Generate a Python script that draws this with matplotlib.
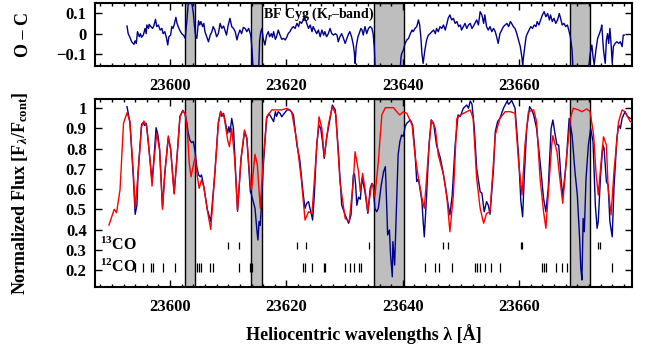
import matplotlib
matplotlib.use("Agg")
import matplotlib.pyplot as plt
from matplotlib.ticker import MultipleLocator, FixedLocator

plt.rcParams['font.family'] = ['Liberation Serif', 'DejaVu Serif']
plt.rcParams['font.weight'] = 'bold'
plt.rcParams['mathtext.fontset'] = 'custom'
plt.rcParams['mathtext.rm'] = 'Liberation Serif:bold'
plt.rcParams['mathtext.it'] = 'Liberation Serif:bold:italic'
plt.rcParams['mathtext.bf'] = 'Liberation Serif:bold'

# ---------------- data ----------------
model_wl = [23589.5, 23590.4, 23590.8, 23591.4, 23592.0, 23592.6, 23593.1, 23593.7, 23594.0, 23594.5,
            23595.1, 23595.5, 23596.0, 23596.6, 23596.9, 23597.2, 23597.7, 23598.2, 23598.7, 23599.1,
            23599.7, 23600.1, 23600.7, 23601.2, 23601.7, 23602.2, 23602.6, 23603.0, 23603.3, 23603.6,
            23604.3, 23604.7, 23605.0, 23605.4, 23605.8, 23606.4, 23607.0, 23607.7, 23608.3, 23608.7,
            23609.3, 23609.9, 23610.2, 23610.6, 23611.1, 23611.6, 23612.2, 23612.8, 23613.2, 23613.8,
            23614.0, 23614.6, 23615.0, 23615.5, 23616.0, 23616.6, 23617.5, 23619.2, 23620.1, 23620.9,
            23621.8, 23622.6, 23623.2, 23623.8, 23624.4, 23624.9, 23625.6, 23626.1, 23626.5, 23627.2,
            23627.9, 23628.5, 23629.2, 23630.1, 23630.8, 23631.5, 23631.8, 23632.4, 23632.7, 23633.1,
            23633.5, 23634.0, 23634.6, 23634.8, 23635.2, 23635.8, 23636.4, 23637.0, 23638.4, 23639.2,
            23639.5, 23640.1, 23640.7, 23641.6, 23642.1, 23642.7, 23643.3, 23643.7, 23644.3, 23644.9,
            23645.6, 23646.1, 23647.0, 23647.6, 23648.1, 23648.7, 23649.3, 23649.9, 23651.0, 23651.6,
            23652.1, 23652.7, 23653.3, 23653.9, 23654.4, 23655.0, 23655.6, 23655.9, 23656.7, 23657.6,
            23658.5, 23659.3, 23659.9, 23660.5, 23661.0, 23661.6, 23662.5, 23663.0, 23663.6, 23664.2,
            23664.6, 23665.0, 23665.6, 23665.8, 23666.5, 23667.0, 23667.5, 23668.1, 23668.8, 23669.3,
            23670.2, 23670.8, 23671.6, 23672.2, 23672.8, 23673.2, 23673.6, 23674.2, 23674.5, 23675.0,
            23675.3, 23675.8, 23676.3, 23677.1, 23677.7, 23678.2, 23679.1, 23679.4]
model_flux = [0.422, 0.50, 0.483, 0.596, 0.926, 0.978, 0.934, 0.678, 0.505, 0.678,
              0.909, 0.937, 0.909, 0.728, 0.615, 0.728, 0.876, 0.794, 0.50, 0.678,
              0.863, 0.794, 0.575, 0.76, 0.958, 0.988, 0.972, 0.876, 0.728, 0.661,
              0.76, 0.661, 0.604, 0.645, 0.612, 0.497, 0.40, 0.678, 0.926, 0.983,
              0.958, 0.843, 0.81, 0.90, 0.75, 0.497, 0.75, 0.893, 0.851, 0.62,
              0.596, 0.772, 0.72, 0.505, 0.736, 0.958, 0.992, 0.992, 1.0, 0.983,
              0.835, 0.637, 0.447, 0.488, 0.48, 0.686, 0.958, 0.90, 0.76, 0.917,
              1.008, 0.967, 0.637, 0.455, 0.44, 0.637, 0.785, 0.686, 0.587, 0.678,
              0.604, 0.488, 0.62, 0.628, 0.562, 0.736, 0.967, 1.003, 1.003, 0.975,
              0.967, 0.983, 0.975, 0.917, 0.769, 0.653, 0.554, 0.505, 0.736, 0.942,
              0.90, 0.769, 0.67, 0.554, 0.389, 0.571, 0.95, 0.967, 0.983, 0.992,
              0.95, 0.653, 0.505, 0.431, 0.48, 0.488, 0.736, 0.868, 0.95, 0.983,
              0.983, 0.975, 0.736, 0.571, 0.818, 0.983, 0.992, 0.934, 0.653, 0.488,
              0.406, 0.571, 0.818, 0.864, 0.785, 0.653, 0.53, 0.736, 0.95, 1.0,
              0.992, 0.983, 0.997, 0.983, 0.868, 0.686, 0.571, 0.769, 0.859, 0.818,
              0.604, 0.472, 0.686, 0.934, 0.992, 0.983, 0.934, 0.93]

obs_wl = [23592.6, 23593.1, 23593.7, 23594.0, 23594.3, 23594.5, 23595.1, 23595.4, 23595.6, 23595.9,
          23596.2, 23596.9, 23597.2, 23597.6, 23597.9, 23598.2, 23598.7, 23599.1, 23599.7, 23600.1,
          23600.7, 23601.2, 23601.7, 23602.2, 23602.6, 23602.9, 23603.1, 23603.4, 23603.7, 23604.0,
          23604.3, 23604.6, 23604.9, 23605.2, 23605.4, 23605.8, 23606.4, 23607.0, 23607.7, 23608.3,
          23608.7, 23608.9, 23609.2, 23609.5, 23609.9, 23610.1, 23610.3, 23610.6, 23610.9, 23611.6,
          23612.2, 23612.8, 23613.2, 23613.8, 23614.0, 23614.3, 23614.6, 23614.9, 23615.1, 23615.3,
          23615.5, 23615.8, 23616.0, 23616.6, 23617.0, 23617.5, 23617.8, 23618.1, 23618.3, 23618.6,
          23618.9, 23619.2, 23619.5, 23620.1, 23620.6, 23621.2, 23621.8, 23622.3, 23622.9, 23623.2,
          23623.5, 23623.8, 23624.0, 23624.2, 23624.5, 23624.8, 23625.2, 23625.6, 23625.9, 23626.2,
          23626.5, 23626.9, 23627.5, 23627.9, 23628.4, 23628.9, 23629.5, 23630.1, 23630.7, 23631.1,
          23631.5, 23631.7, 23631.9, 23632.1, 23632.4, 23632.7, 23633.0, 23633.2, 23633.5, 23634.0,
          23634.4, 23634.7, 23634.9, 23635.2, 23635.5, 23635.8, 23636.3, 23636.7, 23637.0, 23637.1,
          23637.4, 23637.7, 23637.9, 23638.2, 23638.3, 23638.6, 23638.8, 23639.0, 23639.2, 23639.5,
          23639.8, 23640.1, 23640.4, 23640.7, 23641.3, 23641.7, 23642.1, 23642.4, 23642.7, 23643.3,
          23643.5, 23643.7, 23644.1, 23644.5, 23644.9, 23645.3, 23645.8, 23646.4, 23646.8, 23647.3,
          23647.8, 23648.1, 23648.5, 23649.0, 23649.5, 23649.9, 23650.4, 23651.0, 23651.3, 23651.6,
          23651.9, 23652.3, 23652.7, 23653.3, 23653.6, 23654.0, 23654.4, 23654.7, 23655.0, 23655.6,
          23655.9, 23656.3, 23656.7, 23657.3, 23657.9, 23658.2, 23658.5, 23658.7, 23659.3, 23659.9,
          23660.3, 23660.6, 23660.9, 23661.3, 23661.8, 23662.2, 23662.5, 23663.0, 23663.6, 23664.2,
          23664.6, 23665.0, 23665.5, 23665.8, 23666.2, 23666.5, 23666.8, 23667.2, 23667.5, 23668.1,
          23668.6, 23669.1, 23669.6, 23670.0, 23670.4, 23670.6, 23670.8, 23671.0, 23671.2, 23671.5,
          23671.9, 23672.3, 23672.7, 23673.1, 23673.4, 23673.6, 23674.0, 23674.4, 23674.6, 23675.0,
          23675.3, 23675.6, 23676.0, 23676.3, 23676.8, 23677.1, 23677.4, 23677.7, 23678.2, 23678.6,
          23679.1]
obs_flux = [1.008, 0.93, 0.65, 0.475, 0.52, 0.68, 0.92, 0.93, 0.915, 0.925,
            0.85, 0.64, 0.74, 0.904, 0.87, 0.80, 0.51, 0.68, 0.855, 0.80,
            0.58, 0.76, 0.96, 0.99, 0.97, 0.926, 0.88, 0.843, 0.83, 0.835,
            0.785, 0.711, 0.67, 0.661, 0.67, 0.612, 0.50, 0.44, 0.68, 0.93,
            0.985, 0.96, 0.975, 0.93, 0.876, 0.909, 0.88, 0.95, 0.90, 0.49,
            0.75, 0.884, 0.851, 0.587, 0.571, 0.538, 0.505, 0.406, 0.348, 0.44,
            0.42, 0.571, 0.703, 0.95, 0.975, 0.95, 0.934, 0.983, 0.96, 0.983,
            0.975, 0.958, 0.97, 0.992, 0.992, 0.967, 0.818, 0.744, 0.571, 0.505,
            0.53, 0.538, 0.51, 0.488, 0.447, 0.571, 0.818, 0.917, 0.90, 0.835,
            0.752, 0.851, 0.95, 1.016, 0.992, 0.802, 0.521, 0.472, 0.431, 0.472,
            0.67, 0.675, 0.62, 0.52, 0.56, 0.55, 0.653, 0.63, 0.587, 0.48,
            0.604, 0.628, 0.62, 0.505, 0.488, 0.505, 0.62, 0.686, 0.711, 0.637,
            0.373, 0.398, 0.274, 0.166, 0.34, 0.224, 0.406, 0.571, 0.769, 0.835,
            0.868, 0.86, 0.909, 0.926, 0.942, 0.917, 0.785, 0.637, 0.65, 0.538,
            0.44, 0.364, 0.571, 0.818, 0.942, 0.926, 0.818, 0.76, 0.703, 0.62,
            0.521, 0.472, 0.571, 0.818, 0.967, 0.96, 1.0, 1.016, 1.0, 1.036,
            1.02, 0.90, 0.703, 0.587, 0.58, 0.488, 0.538, 0.52, 0.476, 0.703,
            0.884, 0.934, 0.95, 1.0, 1.033, 1.02, 1.03, 1.04, 1.0, 0.769,
            0.538, 0.463, 0.67, 0.90, 1.008, 0.99, 0.967, 0.90, 0.736, 0.554,
            0.488, 0.604, 0.90, 0.942, 0.868, 0.82, 0.818, 0.653, 0.562, 0.736,
            0.95, 0.868, 0.686, 0.571, 0.356, 0.208, 0.15, 0.455, 0.389, 0.653,
            0.818, 0.90, 0.835, 0.521, 0.406, 0.44, 0.67, 0.818, 0.802, 0.637,
            0.62, 0.44, 0.364, 0.604, 0.851, 0.917, 0.90, 0.95, 0.983, 0.96,
            0.95]

oc_wl = [23592.6, 23592.8, 23593.1, 23593.4, 23593.8, 23594.0, 23594.2, 23594.4, 23594.7, 23594.9,
         23595.1, 23595.4, 23595.7, 23595.9, 23596.0, 23596.3, 23596.4, 23596.7, 23597.0, 23597.2,
         23597.5, 23597.7, 23598.0, 23598.3, 23598.6, 23598.8, 23599.1, 23599.4, 23599.6, 23599.8,
         23600.1, 23600.3, 23600.5, 23600.7, 23601.0, 23601.2, 23601.4, 23601.7, 23602.0, 23602.3,
         23602.6, 23602.9, 23603.1, 23603.4, 23603.7, 23604.0, 23604.2, 23604.4, 23604.6, 23604.9,
         23605.1, 23605.3, 23605.6, 23605.8, 23606.0, 23606.3, 23606.6, 23606.9, 23607.2, 23607.4,
         23607.7, 23608.0, 23608.3, 23608.6, 23608.9, 23609.2, 23609.5, 23609.7, 23610.0, 23610.3,
         23610.6, 23610.9, 23611.2, 23611.5, 23611.7, 23612.0, 23612.3, 23612.6, 23612.9, 23613.2,
         23613.5, 23613.8, 23613.9, 23614.1, 23614.3, 23614.8, 23615.2, 23615.4, 23615.6, 23615.8,
         23616.0, 23616.3, 23616.6, 23616.9, 23617.1, 23617.4, 23617.6, 23617.8, 23618.1, 23618.3,
         23618.6, 23618.9, 23619.2, 23619.5, 23619.8, 23620.1, 23620.3, 23620.6, 23620.9, 23621.2,
         23621.5, 23621.8, 23622.1, 23622.3, 23622.6, 23622.9, 23623.2, 23623.5, 23623.8, 23624.1,
         23624.4, 23624.6, 23624.9, 23625.2, 23625.5, 23625.8, 23626.1, 23626.4, 23626.6, 23626.9,
         23627.2, 23627.5, 23627.8, 23628.1, 23628.4, 23628.7, 23628.9, 23629.2, 23629.5, 23629.8,
         23630.1, 23630.4, 23630.7, 23630.9, 23631.2, 23631.5, 23631.7, 23631.8, 23632.0, 23632.3,
         23632.5, 23632.8, 23633.0, 23633.2, 23633.5, 23633.8, 23634.1, 23634.4, 23634.7, 23634.9,
         23635.1, 23635.3, 23636.5, 23638.0, 23639.5, 23639.7, 23639.8, 23640.1, 23640.4, 23640.7,
         23641.0, 23641.3, 23641.6, 23641.8, 23642.1, 23642.4, 23642.7, 23642.9, 23643.1, 23643.3,
         23643.5, 23643.8, 23644.1, 23644.4, 23644.7, 23645.0, 23645.3, 23645.6, 23645.8, 23646.1,
         23646.4, 23646.7, 23647.0, 23647.3, 23647.6, 23647.8, 23648.1, 23648.4, 23648.7, 23649.0,
         23649.3, 23649.6, 23649.9, 23650.1, 23650.4, 23650.7, 23651.0, 23651.3, 23651.6, 23651.9,
         23652.1, 23652.4, 23652.7, 23653.0, 23653.3, 23653.6, 23653.9, 23654.1, 23654.4, 23654.7,
         23655.0, 23655.3, 23655.6, 23655.9, 23656.2, 23656.4, 23656.7, 23657.0, 23657.3, 23657.6,
         23657.9, 23658.2, 23658.5, 23658.7, 23659.0, 23659.3, 23659.6, 23659.9, 23660.2, 23660.5,
         23660.6, 23660.9, 23661.2, 23661.4, 23661.7, 23662.0, 23662.3, 23662.6, 23662.9, 23663.1,
         23663.4, 23663.7, 23664.0, 23664.3, 23664.6, 23664.9, 23665.2, 23665.4, 23665.7, 23666.0,
         23666.3, 23666.6, 23666.9, 23667.2, 23667.4, 23667.7, 23668.0, 23668.3, 23668.6, 23668.8,
         23669.1, 23669.3, 23670.5, 23671.5, 23672.2, 23672.5, 23672.7, 23672.9, 23673.2, 23673.5,
         23673.8, 23674.1, 23674.2, 23674.5, 23674.8, 23675.0, 23675.2, 23675.4, 23675.6, 23675.8,
         23676.0, 23676.2, 23676.5, 23676.8, 23677.1, 23677.4, 23677.7, 23677.9, 23678.1]
oc_val = [0.038, 0.0, -0.018, -0.04, -0.053, -0.035, -0.048, 0.01, -0.015, 0.0,
          -0.018, -0.007, 0.026, 0.0, 0.043, 0.026, 0.046, 0.035, 0.026, 0.038,
          0.071, 0.035, 0.043, 0.018, 0.026, 0.0, 0.01, -0.023, -0.056, -0.015,
          -0.007, 0.035, 0.026, 0.043, 0.081, 0.051, 0.035, 0.015, 0.0, -0.007,
          -0.023, 0.068, 0.142, 0.20, 0.16, 0.10, 0.035, -0.015, -0.023, 0.064,
          0.043, 0.06, 0.035, 0.051, 0.01, -0.015, -0.04, -0.007, 0.01, 0.035,
          0.018, -0.015, 0.0, 0.051, 0.026, 0.038, 0.01, -0.007, 0.043, 0.076,
          0.035, 0.026, 0.01, -0.031, -0.007, 0.018, 0.0, 0.031, 0.026, 0.01,
          0.026, 0.0, -0.015, -0.081, -0.20, -0.25, -0.20, -0.031, 0.01, 0.026,
          -0.023, -0.056, -0.007, 0.01, -0.015, 0.0, -0.018, 0.01, -0.028, -0.015,
          0.018, -0.007, -0.028, -0.023, -0.031, -0.015, 0.0, 0.01, 0.026, 0.035,
          0.026, 0.051, 0.035, 0.06, 0.051, 0.068, 0.076, 0.051, 0.026, 0.043,
          0.01, 0.035, 0.018, 0.0, 0.018, -0.015, 0.018, -0.007, 0.01, -0.015,
          0.0, 0.026, 0.0, -0.007, 0.0, -0.007, -0.04, -0.015, 0.0, -0.023,
          -0.048, -0.023, 0.0, 0.01, -0.015, -0.056, -0.10, -0.147, -0.064, -0.015,
          0.0, 0.026, 0.018, -0.007, 0.035, 0.0, 0.026, 0.035, 0.026, 0.0,
          -0.064, -0.20, -0.40, -0.35, -0.20, -0.114, -0.10, -0.081, -0.048, -0.031,
          -0.023, 0.0, 0.018, 0.01, 0.026, 0.035, 0.068, 0.043, -0.015, -0.10,
          -0.147, -0.081, -0.031, -0.007, 0.0, 0.01, 0.018, 0.0, 0.026, 0.01,
          0.035, 0.026, 0.043, 0.018, 0.051, 0.076, 0.093, 0.068, 0.076, 0.051,
          0.06, 0.035, 0.043, 0.018, 0.035, 0.051, 0.026, 0.043, 0.051, 0.026,
          0.035, 0.051, 0.068, 0.043, 0.109, 0.093, 0.051, 0.093, 0.035, 0.018,
          0.035, 0.01, 0.026, 0.01, -0.023, -0.048, 0.0, 0.018, 0.035, 0.043,
          0.051, 0.035, 0.06, 0.051, 0.035, 0.026, 0.0, -0.031, -0.064, -0.122,
          -0.155, -0.081, -0.015, 0.0, 0.018, 0.035, 0.026, 0.043, 0.035, 0.06,
          0.043, 0.068, 0.093, 0.109, 0.084, 0.10, 0.068, 0.093, 0.06, 0.076,
          0.051, 0.068, 0.10, 0.068, 0.043, 0.051, 0.035, 0.043, 0.01, -0.015,
          -0.081, -0.20, -0.45, -0.30, -0.10, -0.056, -0.114, -0.155, -0.081, -0.023,
          0.0, 0.026, 0.043, -0.081, -0.147, -0.031, 0.0, -0.048, 0.026, -0.048,
          -0.147, -0.064, -0.048, -0.04, -0.048, -0.04, -0.064, -0.007, -0.007]

mask_lo = [23602.6, 23613.9, 23635.1, 23668.7]
mask_hi = [23604.3, 23615.8, 23640.2, 23672.2]

co13_lines = [23609.9, 23611.9, 23621.8, 23623.4, 23634.2, 23647.0, 23647.7, 23660.3, 23660.5,
              23673.5, 23673.9]
co12_lines = [23594.0, 23595.4, 23596.7, 23597.0, 23598.8, 23600.9, 23604.7, 23605.0, 23605.3,
              23606.9, 23607.3, 23611.8, 23613.8, 23614.0, 23622.9, 23623.2, 23624.4, 23626.5,
              23626.7, 23630.0, 23630.9, 23631.7, 23632.5, 23632.8, 23643.8, 23645.6, 23646.2,
              23648.5, 23652.5, 23652.8, 23653.2, 23654.2, 23655.2, 23656.7, 23663.9, 23664.2,
              23664.6, 23666.4, 23667.3, 23668.3, 23675.9]

x_ticks = [23600, 23620, 23640, 23660]
oc_ticks = [-0.1, 0, 0.1]
flux_ticks = [0.2, 0.3, 0.4, 0.5, 0.6, 0.7, 0.8, 0.9, 1.0]
flux_ticklabels = ['0.2', '0.3', '0.4', '0.5', '0.6', '0.7', '0.8', '0.9', '1']

# ---------------- figure ----------------
BLUE = '#00008b'
RED = '#ff0000'
GRAY = '#bebebe'
XLIM = (23587.1, 23679.4)

fig = plt.figure(figsize=(6.49, 3.51), dpi=100)
ax1 = fig.add_axes([0.1464, 0.812, 0.8274, 0.1795])
ax2 = fig.add_axes([0.1464, 0.1832, 0.8274, 0.5348])

for ax in (ax1, ax2):
    for lo, hi in zip(mask_lo, mask_hi):
        ax.axvspan(lo, hi, facecolor=GRAY, edgecolor='black', linewidth=1.0, zorder=1)
    ax.set_xlim(*XLIM)
    ax.xaxis.set_major_locator(FixedLocator(x_ticks))
    ax.xaxis.set_minor_locator(MultipleLocator(2))
    ax.tick_params(which='both', direction='in', top=True, right=True, labelsize=12, width=1.0)
    ax.tick_params(which='major', length=5)
    ax.tick_params(which='minor', length=2.5)
    ax.tick_params(axis='x', which='both', pad=8.5)
    ax.tick_params(axis='y', which='both', pad=6)
    for s in ax.spines.values():
        s.set_linewidth(1.5)
    for lab in ax.get_xticklabels() + ax.get_yticklabels():
        lab.set_fontweight('bold')

# top panel: O - C
ax1.plot(oc_wl, oc_val, color=BLUE, lw=1.0, zorder=3)
ax1.set_ylim(-0.16, 0.152)
ax1.set_yticks(oc_ticks)
ax1.set_yticklabels(['\u22120.1', '0', '0.1'], fontweight='bold')
ax1.set_ylabel('O \u2013 C', fontsize=13, fontweight='bold')
ax1.yaxis.set_label_coords(-0.118, 0.5)
ax1.text(23616.0, 0.098, 'BF Cyg (K$_r$\u2013band)', fontsize=10, fontweight='bold',
         ha='left', va='center', zorder=4)

# bottom panel: spectra
ax2.plot(obs_wl, obs_flux, color=BLUE, lw=1.0, zorder=3)
ax2.plot(model_wl, model_flux, color=RED, lw=1.0, zorder=4)
ax2.vlines(co13_lines, 0.305, 0.34, color='black', lw=0.9, zorder=3)
ax2.vlines(co12_lines, 0.19, 0.235, color='black', lw=0.9, zorder=3)
ax2.text(23588.0, 0.322, '$^{13}$CO', fontsize=11.5, fontweight='bold', ha='left', va='center')
ax2.text(23588.0, 0.213, '$^{12}$CO', fontsize=11.5, fontweight='bold', ha='left', va='center')
ax2.set_ylim(0.117, 1.046)
ax2.set_yticks(flux_ticks)
ax2.set_yticklabels(flux_ticklabels, fontweight='bold')
ax2.set_ylabel('Normalized Flux [F$_\\lambda$/F$_{\\rm cont}$]', fontsize=13, fontweight='bold')
ax2.yaxis.set_label_coords(-0.122, 0.5)
ax2.set_xlabel('Heliocentric wavelengths \u03bb [\u00c5]', fontsize=13, fontweight='bold')
ax2.xaxis.set_label_coords(0.5, -0.20)

fig.savefig('out.png', dpi=100)
